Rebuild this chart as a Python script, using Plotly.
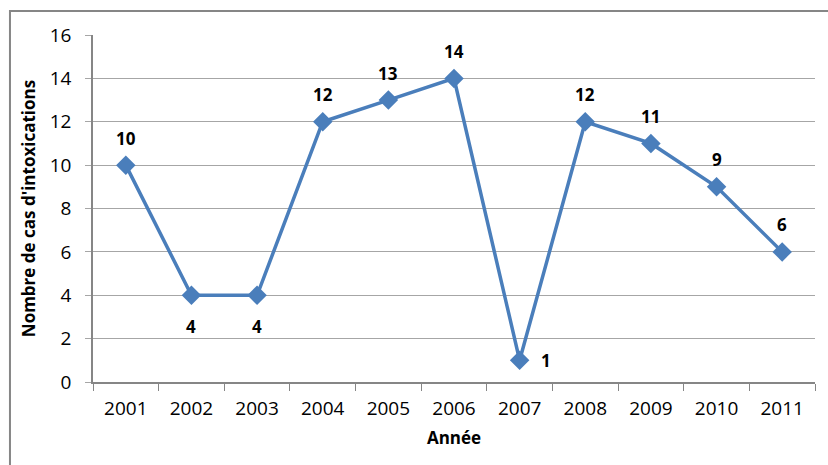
import plotly.graph_objects as go

years = ["2001", "2002", "2003", "2004", "2005", "2006", "2007", "2008", "2009", "2010", "2011"]
cases = [10, 4, 4, 12, 13, 14, 1, 12, 11, 9, 6]
label_pos = ["top", "bottom", "bottom", "top", "top", "top", "right", "top", "top", "top", "top"]

FONT = "Open Sans"
fig = go.Figure()
fig.add_trace(go.Scatter(
    x=years, y=cases, mode="lines+markers",
    line=dict(color="#4A7EBB", width=3.5),
    marker=dict(symbol="diamond", size=15, color="#4A7EBB"),
    hoverinfo="x+y", showlegend=False,
))

for i, (v, p) in enumerate(zip(cases, label_pos)):
    xs, ys = 0, 0
    if p == "top":
        ys = 27
    elif p == "bottom":
        ys = -31
    else:
        xs = 26
    fig.add_annotation(x=i, y=v, text=str(v), showarrow=False, xshift=xs, yshift=ys,
                       font=dict(family=FONT, size=17, color="#000000", weight="bold"))

fig.add_shape(type="rect", xref="paper", yref="paper", x0=-0.115, x1=1.03, y0=-0.26, y1=1.069,
              line=dict(color="#868686", width=2), fillcolor="rgba(0,0,0,0)", layer="below")

fig.update_layout(
    width=828, height=465,
    margin=dict(l=93, r=13, t=35, b=83),
    paper_bgcolor="white", plot_bgcolor="white",
    font=dict(family=FONT, size=16, color="#000000"),
    xaxis=dict(
        type="category", tickson="boundaries", ticks="outside", ticklen=7, tickcolor="#868686",
        showgrid=False, showline=True, linecolor="#868686", linewidth=1.5,
        tickfont=dict(family=FONT, size=19, color="#000000"), ticklabelstandoff=8,
        title=dict(text="Année", font=dict(family=FONT, size=17, weight="bold"), standoff=13),
        range=[-0.5, 10.5], fixedrange=True,
    ),
    yaxis=dict(
        range=[0, 16], dtick=2, ticks="outside", ticklen=6, tickcolor="#A6A6A6",
        showgrid=True, gridcolor="#A6A6A6", gridwidth=1,
        showline=True, linecolor="#868686", linewidth=1.5, zeroline=False,
        tickfont=dict(family=FONT, size=19, color="#000000"), ticklabelstandoff=10,
        title=dict(text="Nombre de cas d'intoxications", font=dict(family=FONT, size=17, weight="bold"), standoff=10),
    ),
)

fig.write_html("out.html")
